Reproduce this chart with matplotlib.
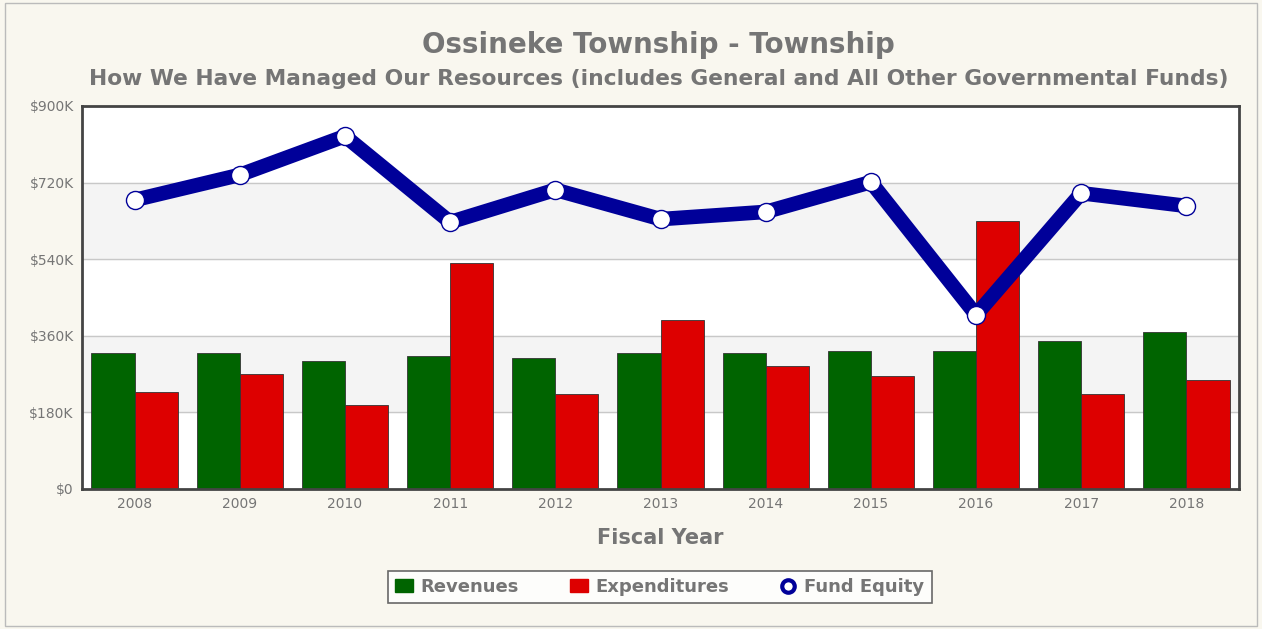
import matplotlib.pyplot as plt
import numpy as np
from matplotlib.patches import Rectangle
from matplotlib.lines import Line2D

years = ['2008', '2009', '2010', '2011', '2012', '2013', '2014', '2015', '2016', '2017', '2018']
revenues = [320, 320, 301, 312, 308, 320, 320, 324, 325, 348, 370]
expenditures = [229, 270, 197, 531, 223, 397, 289, 265, 630, 222, 255]
fund_equity = [679, 738, 829, 627, 703, 634, 651, 721, 409, 695, 665]
yticks = [0, 180, 360, 540, 720, 900]
ytick_labels = ['$0', '$180K', '$360K', '$540K', '$720K', '$900K']

grey = '#757575'
fig = plt.figure(figsize=(12.62, 6.29), dpi=100, facecolor='#f9f7ef')
fig.patches.append(Rectangle((0.004, 0.004), 0.992, 0.992, transform=fig.transFigure,
                             fill=False, edgecolor='#bbbbbb', lw=1))
ax = fig.add_axes([0.065, 0.2226, 0.9168, 0.609])
ax.set_facecolor('white')

x = np.arange(len(years))
w = 0.41
# alternating bands
for lo in (180, 540):
    ax.axhspan(lo, lo + 180, color='#f4f4f4', zorder=0)
for t in yticks[1:-1]:
    ax.axhline(t, color='#c8c8c8', lw=1, zorder=0.5)

ax.bar(x - w / 2, revenues, w, color='#006400', edgecolor='#333333', lw=0.6, zorder=2)
ax.bar(x + w / 2, expenditures, w, color='#dd0000', edgecolor='#333333', lw=0.6, zorder=2)
ax.plot(x, fund_equity, color='#000099', lw=10.5, zorder=3, solid_capstyle='butt')
ax.plot(x, fund_equity, 'o', ms=13, mfc='white', mec='#000099', mew=1, zorder=4)

ax.set_xlim(-0.5, 10.5)
ax.set_ylim(0, 900)
ax.set_yticks(yticks)
ax.set_yticklabels(ytick_labels)
ax.set_xticks(x)
ax.set_xticklabels(years)
ax.tick_params(length=0, colors=grey, labelsize=10, pad=6)
for s in ax.spines.values():
    s.set_color('#444444')
    s.set_linewidth(2)

ax.set_xlabel('Fiscal Year', fontsize=15, fontweight='bold', color=grey, labelpad=12)
fig.text(0.522, 0.928, 'Ossineke Township - Township', ha='center', va='center',
         fontsize=20, fontweight='bold', color=grey)
fig.text(0.522, 0.875, 'How We Have Managed Our Resources (includes General and All Other Governmental Funds)',
         ha='center', va='center', fontsize=15.7, fontweight='bold', color=grey)

handles = [Rectangle((0, 0), 1, 1, color='#006400'),
           Rectangle((0, 0), 1, 1, color='#dd0000'),
           Line2D([], [], marker='o', ls='', ms=9, mfc='white', mec='#000099', mew=3)]
leg = fig.legend(handles, ['Revenues', 'Expenditures', 'Fund Equity'], loc='center',
                 bbox_to_anchor=(0.523, 0.067), ncol=3, frameon=True, fancybox=False,
                 handlelength=1, handletextpad=0.4, columnspacing=2.8,
                 prop={'size': 13, 'weight': 'bold'})
leg.get_frame().set_edgecolor('#444444')
leg.get_frame().set_linewidth(1.2)
for t in leg.get_texts():
    t.set_color(grey)

fig.savefig('out.png', dpi=100, facecolor=fig.get_facecolor())
